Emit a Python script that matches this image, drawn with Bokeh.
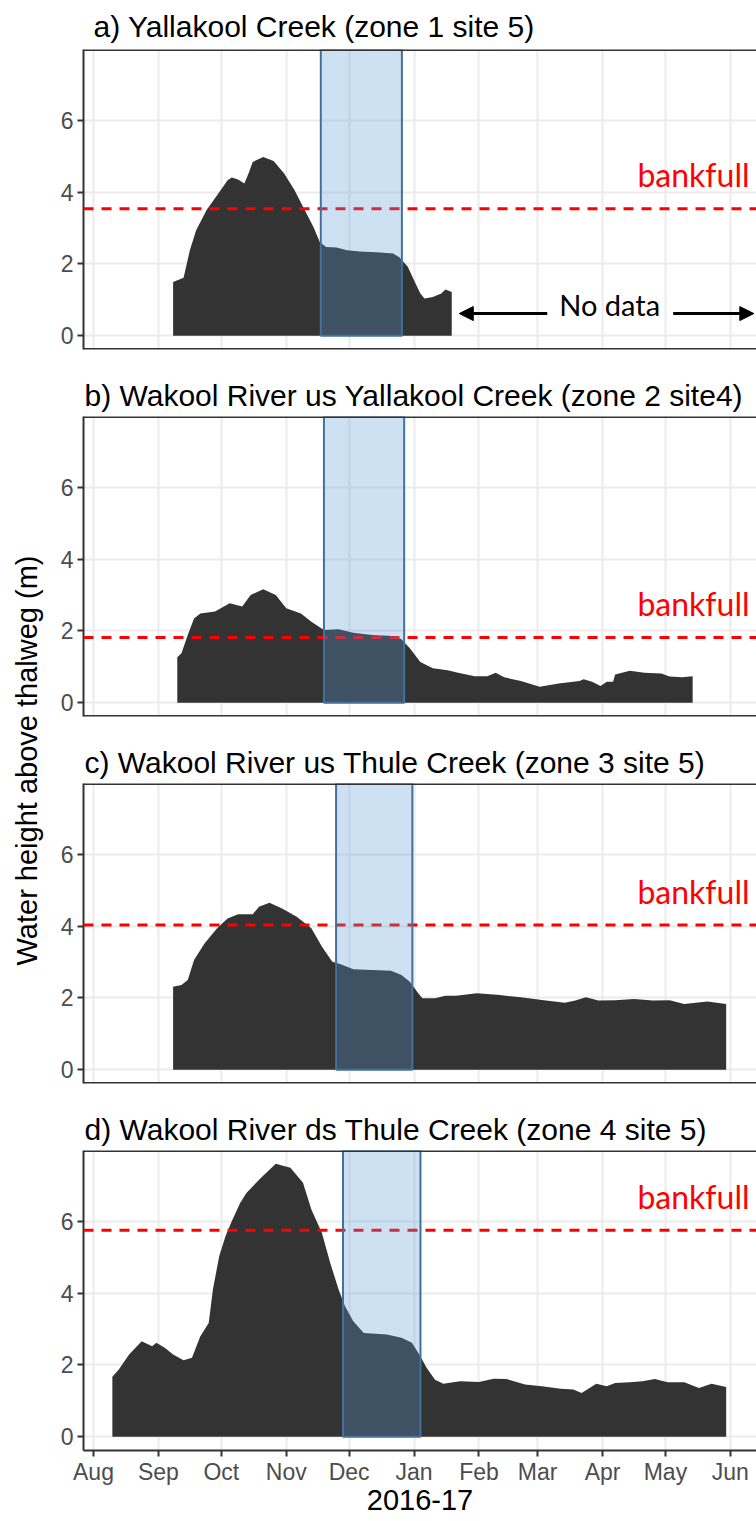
import math
import pandas as pd
from bokeh.plotting import figure
from bokeh.layouts import column, row
from bokeh.models import (Range1d, FixedTicker, MonthsTicker, DatetimeTickFormatter,
                          Span, Label, Arrow, NormalHead, BoxAnnotation)
from bokeh.embed import file_html
from bokeh.resources import INLINE

# ---------------- data ----------------
titles = [
    "a) Yallakool Creek (zone 1 site 5)",
    "b) Wakool River us Yallakool Creek (zone 2 site4)",
    "c) Wakool River us Thule Creek (zone 3 site 5)",
    "d) Wakool River ds Thule Creek (zone 4 site 5)",
]

a_dates = ["2016-09-08", "2016-09-13", "2016-09-16", "2016-09-19", "2016-09-24", "2016-09-29",
           "2016-10-04", "2016-10-06", "2016-10-09", "2016-10-12", "2016-10-14", "2016-10-16",
           "2016-10-21", "2016-10-26", "2016-10-31", "2016-11-05", "2016-11-09", "2016-11-14",
           "2016-11-17", "2016-11-20", "2016-11-25", "2016-11-30", "2016-12-06", "2016-12-14",
           "2016-12-22", "2016-12-25", "2016-12-29", "2017-01-01", "2017-01-04", "2017-01-06",
           "2017-01-10", "2017-01-14", "2017-01-16", "2017-01-19"]
a_vals = [1.50, 1.62, 2.38, 2.94, 3.50, 3.91, 4.33, 4.41, 4.35, 4.24, 4.52, 4.84, 4.98, 4.87,
          4.52, 4.05, 3.59, 3.03, 2.61, 2.47, 2.46, 2.38, 2.35, 2.33, 2.29, 2.19, 1.92, 1.55,
          1.18, 1.04, 1.08, 1.18, 1.29, 1.22]

b_dates = ["2016-09-10", "2016-09-12", "2016-09-15", "2016-09-18", "2016-09-21", "2016-09-28",
           "2016-10-05", "2016-10-11", "2016-10-15", "2016-10-21", "2016-10-27", "2016-11-01",
           "2016-11-08", "2016-11-13", "2016-11-19", "2016-11-26", "2016-12-03", "2016-12-12",
           "2016-12-22", "2016-12-26", "2016-12-30", "2017-01-04", "2017-01-10", "2017-01-17",
           "2017-01-22", "2017-01-30", "2017-02-05", "2017-02-09", "2017-02-13", "2017-02-21",
           "2017-03-02", "2017-03-11", "2017-03-21", "2017-03-23", "2017-03-27", "2017-03-31",
           "2017-04-03", "2017-04-06", "2017-04-07", "2017-04-14", "2017-04-21", "2017-04-29",
           "2017-05-03", "2017-05-09", "2017-05-14"]
b_vals = [1.27, 1.38, 1.89, 2.35, 2.49, 2.54, 2.77, 2.68, 3.00, 3.16, 3.00, 2.63, 2.49, 2.26,
          2.03, 2.05, 1.95, 1.89, 1.86, 1.77, 1.52, 1.14, 0.96, 0.91, 0.84, 0.74, 0.74, 0.84,
          0.71, 0.61, 0.45, 0.54, 0.61, 0.66, 0.59, 0.47, 0.59, 0.59, 0.79, 0.89, 0.84, 0.82,
          0.73, 0.71, 0.74]

c_dates = ["2016-09-08", "2016-09-12", "2016-09-15", "2016-09-18", "2016-09-23", "2016-09-29",
           "2016-10-04", "2016-10-09", "2016-10-16", "2016-10-19", "2016-10-24", "2016-10-30",
           "2016-11-06", "2016-11-13", "2016-11-18", "2016-11-23", "2016-11-27", "2016-12-03",
           "2016-12-12", "2016-12-21", "2016-12-26", "2016-12-30", "2017-01-03", "2017-01-05",
           "2017-01-11", "2017-01-16", "2017-01-21", "2017-01-31", "2017-02-11", "2017-02-21",
           "2017-03-04", "2017-03-14", "2017-03-19", "2017-03-24", "2017-03-30", "2017-04-07",
           "2017-04-16", "2017-04-25", "2017-05-03", "2017-05-10", "2017-05-21", "2017-05-30"]
c_vals = [2.31, 2.36, 2.50, 3.06, 3.52, 3.94, 4.21, 4.33, 4.33, 4.54, 4.65, 4.49, 4.26, 3.94,
          3.43, 3.01, 2.94, 2.80, 2.78, 2.76, 2.64, 2.45, 2.13, 1.99, 1.99, 2.06, 2.06, 2.13,
          2.08, 2.02, 1.94, 1.87, 1.93, 2.02, 1.93, 1.94, 1.97, 1.93, 1.94, 1.83, 1.90, 1.83]

d_dates = ["2016-08-10", "2016-08-13", "2016-08-18", "2016-08-24", "2016-08-29", "2016-08-31",
           "2016-09-04", "2016-09-08", "2016-09-13", "2016-09-17", "2016-09-21", "2016-09-25",
           "2016-09-27", "2016-09-30", "2016-10-03", "2016-10-06", "2016-10-10", "2016-10-13",
           "2016-10-20", "2016-10-27", "2016-11-03", "2016-11-09", "2016-11-13", "2016-11-18",
           "2016-11-22", "2016-11-26", "2016-11-29", "2016-12-03", "2016-12-08", "2016-12-19",
           "2016-12-26", "2016-12-31", "2017-01-04", "2017-01-07", "2017-01-11", "2017-01-15",
           "2017-01-23", "2017-02-01", "2017-02-08", "2017-02-14", "2017-02-23", "2017-03-03",
           "2017-03-12", "2017-03-18", "2017-03-22", "2017-03-29", "2017-04-03", "2017-04-07",
           "2017-04-14", "2017-04-20", "2017-04-26", "2017-05-02", "2017-05-10", "2017-05-17",
           "2017-05-23", "2017-05-30"]
d_vals = [1.67, 1.87, 2.29, 2.66, 2.52, 2.62, 2.48, 2.29, 2.13, 2.20, 2.80, 3.17, 4.10, 5.03,
          5.58, 6.00, 6.51, 6.79, 7.21, 7.60, 7.49, 7.07, 6.33, 5.68, 4.84, 4.10, 3.64, 3.22,
          2.89, 2.85, 2.76, 2.62, 2.24, 1.92, 1.59, 1.48, 1.55, 1.53, 1.62, 1.61, 1.46, 1.41,
          1.34, 1.32, 1.22, 1.48, 1.41, 1.50, 1.52, 1.55, 1.61, 1.52, 1.52, 1.36, 1.48, 1.39]

bankfull = [3.54, 1.82, 4.03, 5.75]
window_start = ["2016-11-17 12:00", "2016-11-19 00:00", "2016-11-24 19:00", "2016-11-28 02:00"]
window_end = ["2016-12-26 05:00", "2016-12-27 07:00", "2016-12-31 05:00", "2017-01-04 02:00"]
y_ticks = [0, 2, 4, 6]
x_title = "2016-17"
y_title = "Water height above thalweg (m)"

site_dates = [a_dates, b_dates, c_dates, d_dates]
site_vals = [a_vals, b_vals, c_vals, d_vals]

# ---------------- helpers ----------------
BASE = pd.Timestamp("2016-08-01")


def ms(s):
    return pd.Timestamp(s).value / 1e6


def day_ms(d):
    return (BASE + pd.Timedelta(days=d)).value / 1e6


FRAME_W = 673
X0, X1 = day_ms(-4.77), day_ms(-4.77 + FRAME_W / 2.095)
Y0, Y1 = -0.38, 7.97
FONT = "Liberation Sans"
BORDER = "#333333"

panels = []
for i in range(4):
    first, last = i == 0, i == 3
    p = figure(frame_width=FRAME_W, frame_height=300, x_axis_type="datetime",
               x_range=Range1d(X0, X1), y_range=Range1d(Y0, Y1),
               output_backend="svg", toolbar_location=None,
               min_border_left=39, min_border_right=0,
               min_border_top=(49 if first else 45),
               min_border_bottom=(66 if last else 22),
               background_fill_color="white", border_fill_color="white")
    p.title.text = titles[i]
    p.title.text_font = FONT
    p.title.text_font_size = "30px"
    p.title.text_font_style = "normal"
    p.title.text_color = "black"
    p.title.align = "left"
    p.title.offset = 10 if first else 1
    p.title.standoff = 13 if first else 9

    mt = MonthsTicker(months=list(range(12)))
    p.xaxis.ticker = mt
    p.xgrid.ticker = mt
    p.xaxis.formatter = DatetimeTickFormatter(months="%b", days="%b", years="%b")
    p.yaxis.ticker = FixedTicker(ticks=y_ticks)
    p.ygrid.ticker = FixedTicker(ticks=y_ticks)

    for g in (p.xgrid, p.ygrid):
        g.grid_line_color = "#EBEBEB"
        g.grid_line_width = 2

    for ax in (p.xaxis, p.yaxis):
        ax.axis_line_color = BORDER
        ax.axis_line_width = 2
        ax.major_tick_line_color = BORDER
        ax.major_tick_line_width = 2
        ax.major_tick_out = 6
        ax.major_tick_in = 0
        ax.minor_tick_line_color = None
        ax.major_label_text_font = FONT
        ax.major_label_text_font_size = "23px"
        ax.major_label_text_color = "#4D4D4D"
        ax.major_label_standoff = 4
    p.xaxis.major_label_standoff = 2

    if last:
        p.xaxis.axis_label = x_title
        p.xaxis.axis_label_text_font = FONT
        p.xaxis.axis_label_text_font_size = "29px"
        p.xaxis.axis_label_text_font_style = "normal"
        p.xaxis.axis_label_text_color = "black"
        p.xaxis.axis_label_standoff = 2
    else:
        p.xaxis.visible = False

    # panel border: the reference image is cut at its right edge, so no right side
    p.outline_line_color = None

    p.varea(x=pd.to_datetime(site_dates[i]), y1=0, y2=site_vals[i],
            fill_color="#333333")

    p.add_layout(Span(location=bankfull[i], dimension="width", line_color="red",
                      line_dash="10 8", line_width=3))
    p.add_layout(BoxAnnotation(left=ms(window_start[i]), right=ms(window_end[i]), bottom=0,
                               fill_color="#5B9BD5", fill_alpha=0.3,
                               line_color="#41719C", line_width=2, line_alpha=1))
    p.add_layout(Span(location=Y1, dimension="width", line_color=BORDER, line_width=3))
    if not last:
        p.add_layout(Span(location=Y0, dimension="width", line_color=BORDER, line_width=3))
    p.add_layout(Label(x=X1, y=bankfull[i], x_offset=-7, y_offset=34, text="bankfull",
                       text_align="right", text_baseline="alphabetic", text_color="red",
                       text_font="Lato", text_font_size="32px"))

    if first:
        ay = 0.62
        p.add_layout(Arrow(x_start=day_ms(216.6), y_start=ay, x_end=day_ms(174.6), y_end=ay,
                           line_width=3, line_color="black",
                           end=NormalHead(size=14, fill_color="black", line_color="black")))
        p.add_layout(Arrow(x_start=day_ms(276.7), y_start=ay, x_end=day_ms(315.2), y_end=ay,
                           line_width=3, line_color="black",
                           end=NormalHead(size=14, fill_color="black", line_color="black")))
        p.add_layout(Label(x=day_ms(222.3), y=ay, y_offset=9, text="No data",
                           text_align="left", text_baseline="alphabetic", text_color="black",
                           text_font="Lato", text_font_size="29px"))
    panels.append(p)

H = 1516
yl = figure(width=44, height=H, x_range=Range1d(0, 44), y_range=Range1d(0, H),
            output_backend="svg", toolbar_location=None, min_border=0,
            min_border_left=0, min_border_right=0, min_border_top=0, min_border_bottom=0,
            outline_line_color=None, background_fill_color="white", border_fill_color="white")
yl.axis.visible = False
yl.grid.visible = False
yl.add_layout(Label(x=26, y=H - 760, text=y_title, angle=math.pi / 2,
                    text_align="center", text_baseline="middle", text_color="black",
                    text_font=FONT, text_font_size="29px"))

layout = row(yl, column(*panels))
open("out.html", "w").write(file_html(layout, INLINE))
